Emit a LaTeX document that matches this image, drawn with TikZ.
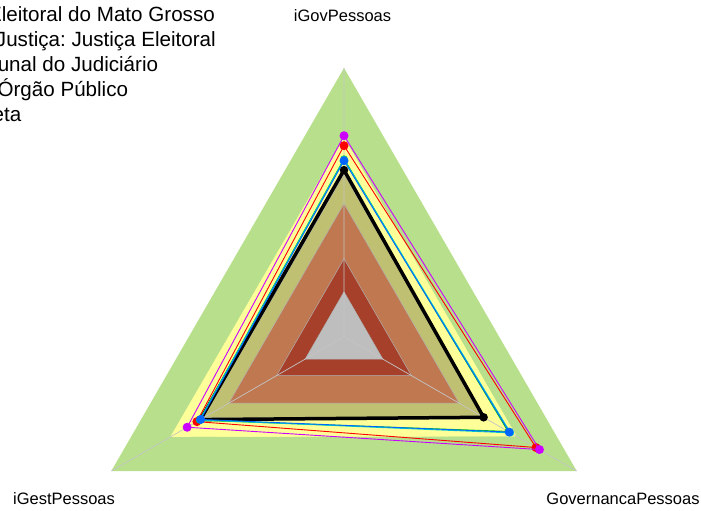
\documentclass[tikz,border=0pt]{standalone}
\usepackage{fontspec}
\setmainfont{Liberation Sans}
\frenchspacing
\definecolor{cGreen}{HTML}{B8E08C}
\definecolor{cYellow}{HTML}{FFFF99}
\definecolor{cOlive}{HTML}{C0C072}
\definecolor{cBrown}{HTML}{BF7850}
\definecolor{cDark}{HTML}{A6402B}
\definecolor{cGrey}{HTML}{BEBEBE}
\definecolor{cAxis}{HTML}{C4C4C4}
\definecolor{sBlue}{HTML}{0066FF}
\definecolor{sMag}{HTML}{CC00FF}
\definecolor{sRed}{HTML}{FF0000}
\definecolor{sCyan}{HTML}{00CCCC}
\definecolor{sGreen}{HTML}{00CC00}
\newcommand\mytri[3]{(90:{#1*268.7}) -- (330:{#2*268.7}) -- (210:{#3*268.7}) -- cycle}
\begin{document}
\begin{tikzpicture}[x=1pt,y=1pt,
  band/.style={draw=gray!60, line width=0.5pt},
  ser/.style={line width=0.9pt, line join=round},
  sdot/.style={circle, inner sep=0pt, minimum size=9pt},
  leg/.style={font=\fontsize{20.6}{24}\selectfont, anchor=base east, inner sep=0pt},
  axl/.style={font=\fontsize{16.5}{19}\selectfont, anchor=base, inner sep=0pt}]
\useasboundingbox (0,0) rectangle (701,511);
\begin{scope}[shift={(344,174.3)}]
  % bands
  \fill[cGreen] \mytri{1}{1}{1};
  \filldraw[fill=cYellow, draw=cYellow] \mytri{0.74}{0.74}{0.745};
  \filldraw[band, fill=cOlive] \mytri{0.605}{0.605}{0.605};
  \filldraw[band, fill=cBrown] \mytri{0.495}{0.495}{0.495};
  \filldraw[band, fill=cDark] \mytri{0.29}{0.29}{0.29};
  \filldraw[band, fill=cGrey] \mytri{0.167}{0.167}{0.167};
  % axes
  \coordinate (O) at (0,0);
  \coordinate (aT) at (90:268.7);
  \coordinate (aR) at (330:268.7);
  \coordinate (aL) at (210:268.7);
  \draw[cAxis, line width=0.7pt] (O) -- (aT) (O) -- (aR) (O) -- (aL);
  % series vertices
  \coordinate (kT) at (90:{0.62*268.7});
  \coordinate (kR) at (330:{0.60*268.7});
  \coordinate (kL) at (210:{0.617*268.7});
  \coordinate (rT) at (90:{0.711*268.7});
  \coordinate (rR) at (330:{0.825*268.7});
  \coordinate (rL) at (210:{0.632*268.7});
  \coordinate (gT) at (90:{0.662*268.7});
  \coordinate (gR) at (330:{0.705*268.7});
  \coordinate (gL) at (210:{0.622*268.7});
  \coordinate (cT) at (90:{0.66*268.7});
  \coordinate (cR) at (330:{0.716*268.7});
  \coordinate (cL) at (210:{0.62*268.7});
  \coordinate (bT) at (90:{0.655*268.7});
  \coordinate (bR) at (330:{0.71*268.7});
  \coordinate (bL) at (210:{0.616*268.7});
  \coordinate (mT) at (90:{0.748*268.7});
  \coordinate (mR) at (330:{0.84*268.7});
  \coordinate (mL) at (210:{0.674*268.7});
  % black series
  \draw[line width=3.5pt, line join=round] (kT) -- (kR) -- (kL) -- cycle;
  \foreach \p in {kT,kR,kL} \node[sdot, fill=black, minimum size=8.5pt] (d\p) at (\p) {};
  % red
  \draw[ser, sRed] (rT) -- (rR) -- (rL) -- cycle;
  \foreach \p in {rT,rR,rL} \node[sdot, fill=sRed] (d\p) at (\p) {};
  % green
  \draw[ser, sGreen] (gT) -- (gR) -- (gL) -- cycle;
  \foreach \p in {gT,gR,gL} \node[sdot, fill=sGreen, minimum size=7pt] (d\p) at (\p) {};
  % cyan
  \draw[ser, sCyan] (cT) -- (cR) -- (cL) -- cycle;
  \foreach \p in {cT,cR,cL} \node[sdot, fill=sCyan, minimum size=7pt] (d\p) at (\p) {};
  % blue
  \draw[ser, sBlue] (bT) -- (bR) -- (bL) -- cycle;
  \foreach \p in {bT,bR,bL} \node[sdot, fill=sBlue] (d\p) at (\p) {};
  % magenta
  \draw[ser, sMag] (mT) -- (mR) -- (mL) -- cycle;
  \foreach \p in {mT,mR,mL} \node[sdot, fill=sMag] (d\p) at (\p) {};
\end{scope}
% axis labels
\node[axl] (lT) at (342.5,489.5) {iGovPessoas};
\node[axl] (lL) at (64,6) {iGestPessoas};
\node[axl] (lR) at (623,6) {GovernancaPessoas};
% legend (cut at the left edge, as in the reference)
\node[leg] (g1) at (215,489.5) {Eleitoral do Mato Grosso};
\node[leg] (g2) at (216,464.5) {Justiça: Justiça Eleitoral};
\node[leg] (g3) at (158.3,439.5) {unal do Judiciário};
\node[leg] (g4) at (128.3,414.5) {Órgão Público};
\node[leg] (g5) at (21.5,389.5) {eta};
\end{tikzpicture}
\end{document}
